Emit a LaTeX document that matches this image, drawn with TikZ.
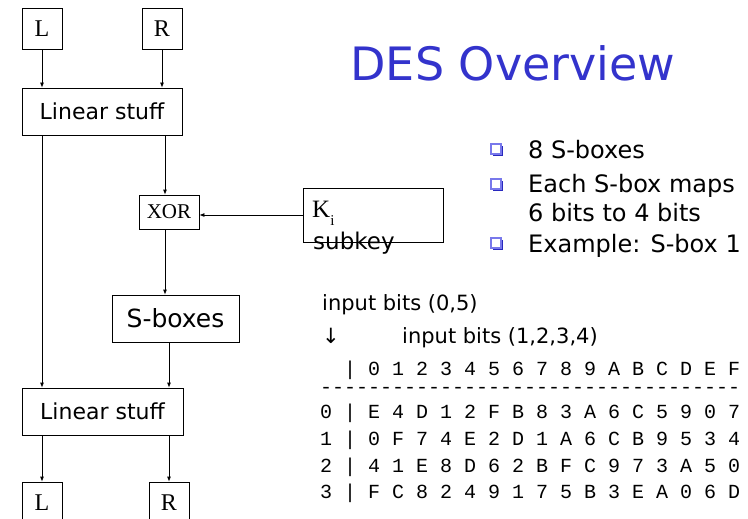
\documentclass[tikz,border=0pt]{standalone}
\usepackage{fontspec}
\setmainfont{DejaVu Sans}
\newfontfamily\serifface{Liberation Serif}
\newfontfamily\monoface{Liberation Mono}
\usetikzlibrary{arrows.meta}
\definecolor{titleblue}{RGB}{51,51,204}
\definecolor{bulletlight}{RGB}{120,120,235}
\definecolor{bulletdark}{RGB}{40,40,190}
\tikzset{
  blk/.style={draw, line width=0.8pt, inner sep=0pt, minimum width=#1},
  lettbox/.style={blk=40pt, minimum height=41pt, font=\serifface\fontsize{24}{24}\selectfont},
  wide/.style={blk=#1, minimum height=47pt, font=\fontsize{22}{26}\selectfont},
  flow/.style={draw, line width=0.8pt, -{Latex[length=5pt,width=4pt]}},
  body/.style={anchor=base west, inner sep=0pt, font=\fontsize{24}{28}\selectfont},
  note/.style={anchor=base west, inner sep=0pt, font=\fontsize{21}{24}\selectfont},
  tab/.style={anchor=base west, inner sep=0pt, font=\monoface\fontsize{20}{20}\selectfont},
}
\newcommand{\sqbullet}[2]{%
  \fill[bulletdark] (#1+2,#2+2) rectangle (#1+12,#2+12);
  \filldraw[fill=white, draw=bulletlight, line width=1.2pt] (#1,#2) rectangle (#1+10,#2+10);}
\begin{document}
\begin{tikzpicture}[x=1pt, y=-1pt]
\useasboundingbox (0,0) rectangle (748,519);

% round input halves
\node[lettbox] (Lin) at (42,28.5) {L};
\node[lettbox] (Rin) at (162,28.5) {R};
\node[wide=160pt] (lin1) at (102,111.5) {Linear stuff};
\node[blk=60pt, minimum height=34pt, font=\serifface\fontsize{21}{21}\selectfont] (xor) at (169,212) {XOR};
\node[draw, line width=0.8pt, minimum width=140pt, minimum height=54pt, inner sep=0pt] (key) at (373,215) {};
\node[wide=127pt, font=\fontsize{25}{28}\selectfont] (sbox) at (175.5,318.5) {S-boxes};
\node[wide=161pt] (lin2) at (102.5,411.5) {Linear stuff};
\node[lettbox] (Lout) at (42,502.5) {L};
\node[lettbox] (Rout) at (169,502.5) {R};

% key label (overflows its box)
\node[anchor=base west, inner sep=0pt, font=\serifface\fontsize{25}{25}\selectfont] (kname) at (312,217)
  {K\raisebox{-9pt}{\fontsize{15}{15}\selectfont i}};
\node[anchor=base west, inner sep=0pt, font=\fontsize{23}{26}\selectfont] (ksub) at (313,249) {subkey};

% data paths
\coordinate (xa) at (165,0);
\coordinate (xb) at (169,0);
\path[flow] (Lin) -- (Lin |- lin1.north);
\path[flow] (Rin) -- (Rin |- lin1.north);
\path[flow] (lin1.south -| Lin) -- (lin2.north -| Lin);
\path[flow] (lin1.south -| xa) -- (xor.north -| xa);
\path[flow] (key.west) -- (key.west -| xor.east);
\path[flow] (xor.south -| xa) -- (sbox.north -| xa);
\path[flow] (sbox.south -| xb) -- (lin2.north -| xb);
\path[flow] (lin2.south -| Lout) -- (Lout.north);
\path[flow] (lin2.south -| Rout) -- (Rout.north);

% title
\node[anchor=base, inner sep=0pt, text=titleblue, font=\fontsize{46}{50}\selectfont] (title) at (513,81) {DES Overview};

% bullet list
\sqbullet{491}{144}
\node[body] (b1) at (528,158) {8 S-boxes};
\sqbullet{491}{179}
\node[body] (b2) at (528,193) {Each S-box maps};
\node[body] (b2b) at (528,221) {6 bits to 4 bits};
\sqbullet{491}{238}
\node[body] (b3) at (528,252) {Example: S-box 1};

% S-box 1 table
\node[note] (rowlab) at (322,310) {input bits (0,5)};
\node[note] (down) at (322,343) {↓};
\node[note] (collab) at (402,343) {input bits (1,2,3,4)};
\node[tab] (hdr) at (320,375) {\ \ | 0 1 2 3 4 5 6 7 8 9 A B C D E F};
\node[tab] (rule) at (320,393) {-----------------------------------};
\node[tab] (r0) at (320,418) {0 | E 4 D 1 2 F B 8 3 A 6 C 5 9 0 7};
\node[tab] (r1) at (320,445) {1 | 0 F 7 4 E 2 D 1 A 6 C B 9 5 3 4};
\node[tab] (r2) at (320,472) {2 | 4 1 E 8 D 6 2 B F C 9 7 3 A 5 0};
\node[tab] (r3) at (320,498) {3 | F C 8 2 4 9 1 7 5 B 3 E A 0 6 D};
\end{tikzpicture}
\end{document}
